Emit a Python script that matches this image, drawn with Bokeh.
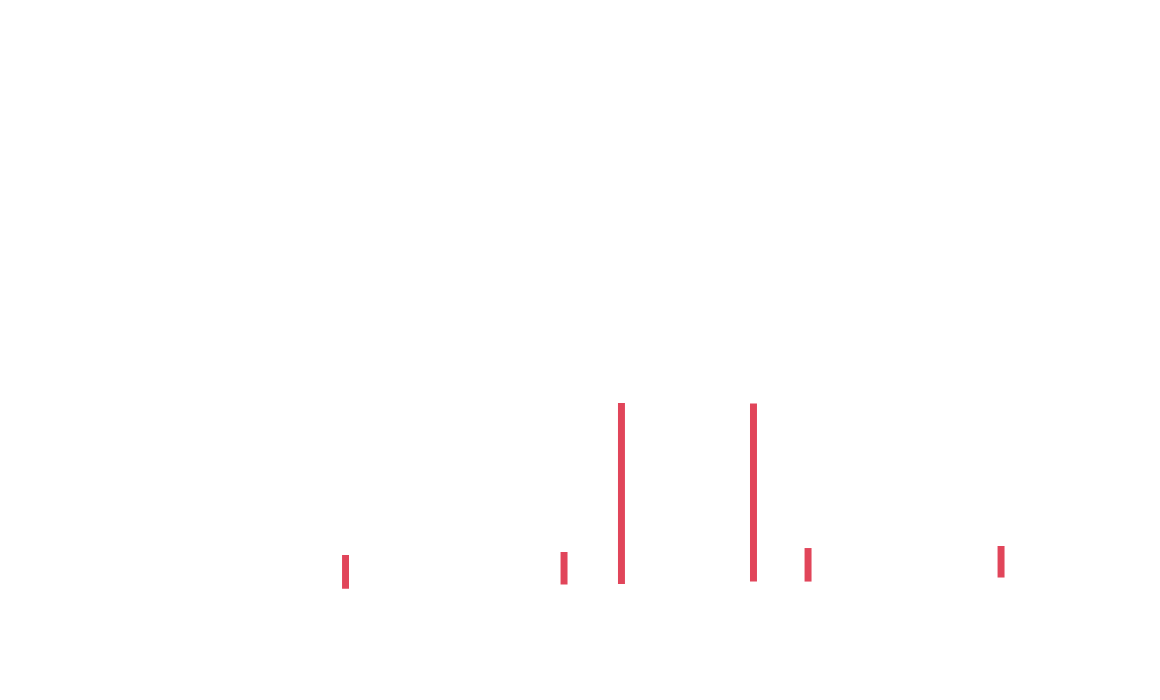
from bokeh.plotting import figure
from bokeh.models import Range1d, ColumnDataSource
from bokeh.embed import file_html
from bokeh.resources import INLINE

# Data (arbitrary units)
x_pos = [29.46, 48.56, 53.58, 65.12, 69.89, 86.76]
lows = [15.10, 15.72, 15.79, 16.15, 16.15, 16.74]
highs = [20.03, 20.47, 42.25, 42.18, 21.05, 21.35]

src = ColumnDataSource(dict(x=x_pos, bottom=lows, top=highs))

p = figure(width=1144, height=684, output_backend="svg", toolbar_location=None,
           x_range=Range1d(-0.70, 99.30), y_range=Range1d(1.10, 101.10), min_border=0)
p.vbar(x="x", bottom="bottom", top="top", width=0.61, source=src,
       fill_color="#E1455A", line_color=None)
p.axis.visible = False
p.grid.visible = False
p.outline_line_color = None
p.background_fill_color = "white"
p.border_fill_color = "white"

open("out.html", "w").write(file_html(p, INLINE))
